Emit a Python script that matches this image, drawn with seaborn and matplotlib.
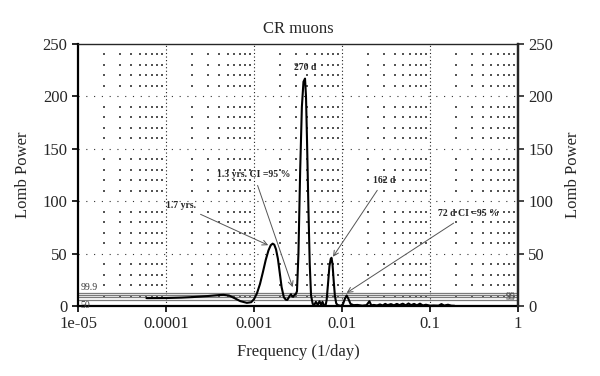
import numpy as np
import pandas as pd
import matplotlib
matplotlib.use("Agg")
import matplotlib.pyplot as plt
import seaborn as sns

# ---- data ----
freq = [6.0e-5, 1.0e-4, 1.5e-4, 2.0e-4, 3.0e-4, 4.0e-4, 4.5e-4, 5.2e-4, 6.0e-4, 7.0e-4,
        8.3e-4, 9.3e-4, 1.0e-3, 1.08e-3, 1.17e-3, 1.26e-3, 1.36e-3, 1.46e-3, 1.55e-3, 1.63e-3,
        1.7e-3, 1.78e-3, 1.87e-3, 1.96e-3, 2.06e-3, 2.18e-3, 2.3e-3, 2.39e-3, 2.5e-3, 2.63e-3,
        2.72e-3, 2.8e-3, 2.9e-3, 2.98e-3, 3.08e-3, 3.2e-3, 3.35e-3, 3.5e-3, 3.65e-3, 3.8e-3,
        3.9e-3, 4.0e-3, 4.15e-3, 4.3e-3, 4.45e-3, 4.65e-3, 4.85e-3, 5.05e-3, 5.3e-3, 5.55e-3,
        5.8e-3, 6.0e-3, 6.25e-3, 6.5e-3, 6.7e-3, 6.95e-3, 7.2e-3, 7.45e-3, 7.6e-3, 7.8e-3,
        8.05e-3, 8.3e-3, 8.6e-3, 8.9e-3, 9.3e-3, 9.8e-3, 1.03e-2, 1.08e-2, 1.13e-2, 1.18e-2,
        1.25e-2, 1.35e-2, 1.5e-2, 1.7e-2, 1.9e-2, 2.05e-2, 2.15e-2, 2.3e-2, 2.5e-2, 2.7e-2,
        2.9e-2, 3.1e-2, 3.3e-2, 3.6e-2, 3.9e-2, 4.2e-2, 4.5e-2, 4.9e-2, 5.3e-2, 5.7e-2,
        6.1e-2, 6.6e-2, 7.1e-2, 7.7e-2, 8.3e-2, 9.0e-2, 1.0e-1, 1.1e-1, 1.25e-1, 1.35e-1,
        1.45e-1, 1.6e-1, 1.75e-1, 1.9e-1]
power = [7.5, 7.6, 8.0, 8.5, 9.5, 10.4, 10.6, 10.0, 7.5, 4.6,
         3.0, 3.6, 6.5, 12.0, 21.0, 32.0, 44.0, 53.0, 58.0, 59.5,
         58.5, 54.0, 45.0, 32.0, 18.0, 8.5, 6.0, 5.8, 8.5, 11.2,
         9.0, 8.8, 10.8, 11.2, 14.0, 50.0, 130.0, 190.0, 214.0, 217.0,
         200.0, 160.0, 95.0, 40.0, 10.0, 2.0, 1.0, 4.0, 1.0, 4.5,
         1.0, 4.0, 0.5, 0.2, 6.0, 22.0, 38.0, 45.0, 46.0, 40.0,
         24.0, 10.0, 2.5, 1.0, 0.5, 0.2, 2.0, 7.0, 10.0, 7.0,
         2.0, 0.8, 1.0, 0.3, 0.8, 4.5, 0.6, 1.0, 0.5, 1.5,
         0.5, 2.0, 0.8, 1.8, 0.6, 2.0, 0.8, 2.2, 0.6, 2.4,
         0.8, 2.0, 0.6, 2.2, 0.5, 1.2, 0.3, 0.5, 0.3, 1.8,
         0.4, 1.2, 0.3, 0.2]

thresholds = [12.2, 10.2, 8.3, 5.7]          # 99.9, 99, 95, 50 % levels
xtick_values = [1e-5, 1e-4, 1e-3, 1e-2, 1e-1, 1]
xtick_labels = ["1e-05", "0.0001", "0.001", "0.01", "0.1", "1"]
ytick_values = [0, 50, 100, 150, 200, 250]

annotations = [
    # text, text position (f, P), arrow target (f, P) or None
    ("1.7 yrs.", (1.48e-4, 96), (1.45e-3, 58)),
    ("1.3 yrs. CI =95 %", (1.0e-3, 125), (2.75e-3, 18)),
    ("270 d", (3.8e-3, 228), None),
    ("162 d", (3.0e-2, 120), (7.9e-3, 47)),
    ("72 d CI =95 %", (0.27, 88), (1.13e-2, 12.5)),
]

df = pd.DataFrame({"Frequency": freq, "Power": power})

sns.set_style("ticks")
plt.rcParams["font.family"] = ["Liberation Serif", "DejaVu Serif"]

fig = plt.figure(figsize=(6.0, 3.76), dpi=100)
ax = fig.add_axes([0.13, 0.1862, 0.7333, 0.6968])

ax.set_xscale("log")
ax.set_xlim(1e-5, 1)
ax.set_ylim(0, 250)

# dot lattice grid (minor x positions x every 10 units)
minor_x = [m * 10.0 ** e for e in range(-5, 0) for m in range(2, 10)]
minor_y = [v for v in range(10, 250, 10) if v % 50 != 0]
gx, gy = np.meshgrid(minor_x, minor_y)
ax.scatter(gx.ravel(), gy.ravel(), s=0.7, color="#555555", marker="s", linewidths=0, zorder=1)
for xv in xtick_values[1:-1]:
    ax.axvline(xv, color="#222222", lw=0.8, linestyle=(0, (1, 2.2)), zorder=1)
for yv in ytick_values[1:-1]:
    ax.axhline(yv, color="#333333", lw=0.8, linestyle=(0, (1, 6)), zorder=1)

# significance levels
for t in thresholds:
    ax.axhline(t, color="#7a7a7a", lw=0.9, zorder=2)
ax.text(1.06e-5, thresholds[0] + 0.8, "99.9", fontsize=7, color="#333333", va="bottom", ha="left")
ax.text(1.06e-5, thresholds[3] - 0.6, "50", fontsize=7, color="#333333", va="top", ha="left")
ax.text(0.93, thresholds[1] - 1.0, "99", fontsize=7, color="#555555", va="center", ha="right")
ax.text(0.93, thresholds[2] - 0.5, "95", fontsize=7, color="#555555", va="center", ha="right")

sns.lineplot(data=df, x="Frequency", y="Power", ax=ax, color="black", lw=1.5, zorder=3,
             estimator=None, sort=False)

for txt, pos, target in annotations:
    if target is None:
        ax.text(pos[0], pos[1], txt, fontsize=7, fontweight="bold", ha="center", va="center")
    else:
        ax.annotate(txt, xy=target, xytext=pos, fontsize=7, fontweight="bold",
                    ha="center", va="center",
                    arrowprops=dict(arrowstyle="->", color="#555555", lw=0.7,
                                    shrinkA=2, shrinkB=0, mutation_scale=9))

ax.set_xticks(xtick_values)
ax.set_xticklabels(xtick_labels)
ax.set_yticks(ytick_values)
ax.minorticks_off()
ax.tick_params(axis="both", labelsize=12, length=4, width=1.2, direction="out", color="black")
ax.set_xlabel("Frequency (1/day)", fontsize=12, labelpad=8)
ax.set_ylabel("Lomb Power", fontsize=12, labelpad=8)
ax.set_title("CR muons", fontsize=12, pad=8)

for side in ["left", "right", "bottom"]:
    ax.spines[side].set_visible(True)
    ax.spines[side].set_linewidth(1.6)
    ax.spines[side].set_color("black")
ax.spines["top"].set_visible(True)
ax.spines["top"].set_linewidth(1.0)

ax2 = ax.twinx()
ax2.set_ylim(0, 250)
ax2.set_yticks(ytick_values)
ax2.tick_params(axis="y", labelsize=12, length=4, width=1.2, direction="out")
ax2.set_ylabel("Lomb Power", fontsize=12, labelpad=8)
for s in ax2.spines.values():
    s.set_visible(False)
ax2.spines["right"].set_visible(True)
ax2.spines["right"].set_linewidth(1.6)

fig.savefig("out.png", dpi=100)
